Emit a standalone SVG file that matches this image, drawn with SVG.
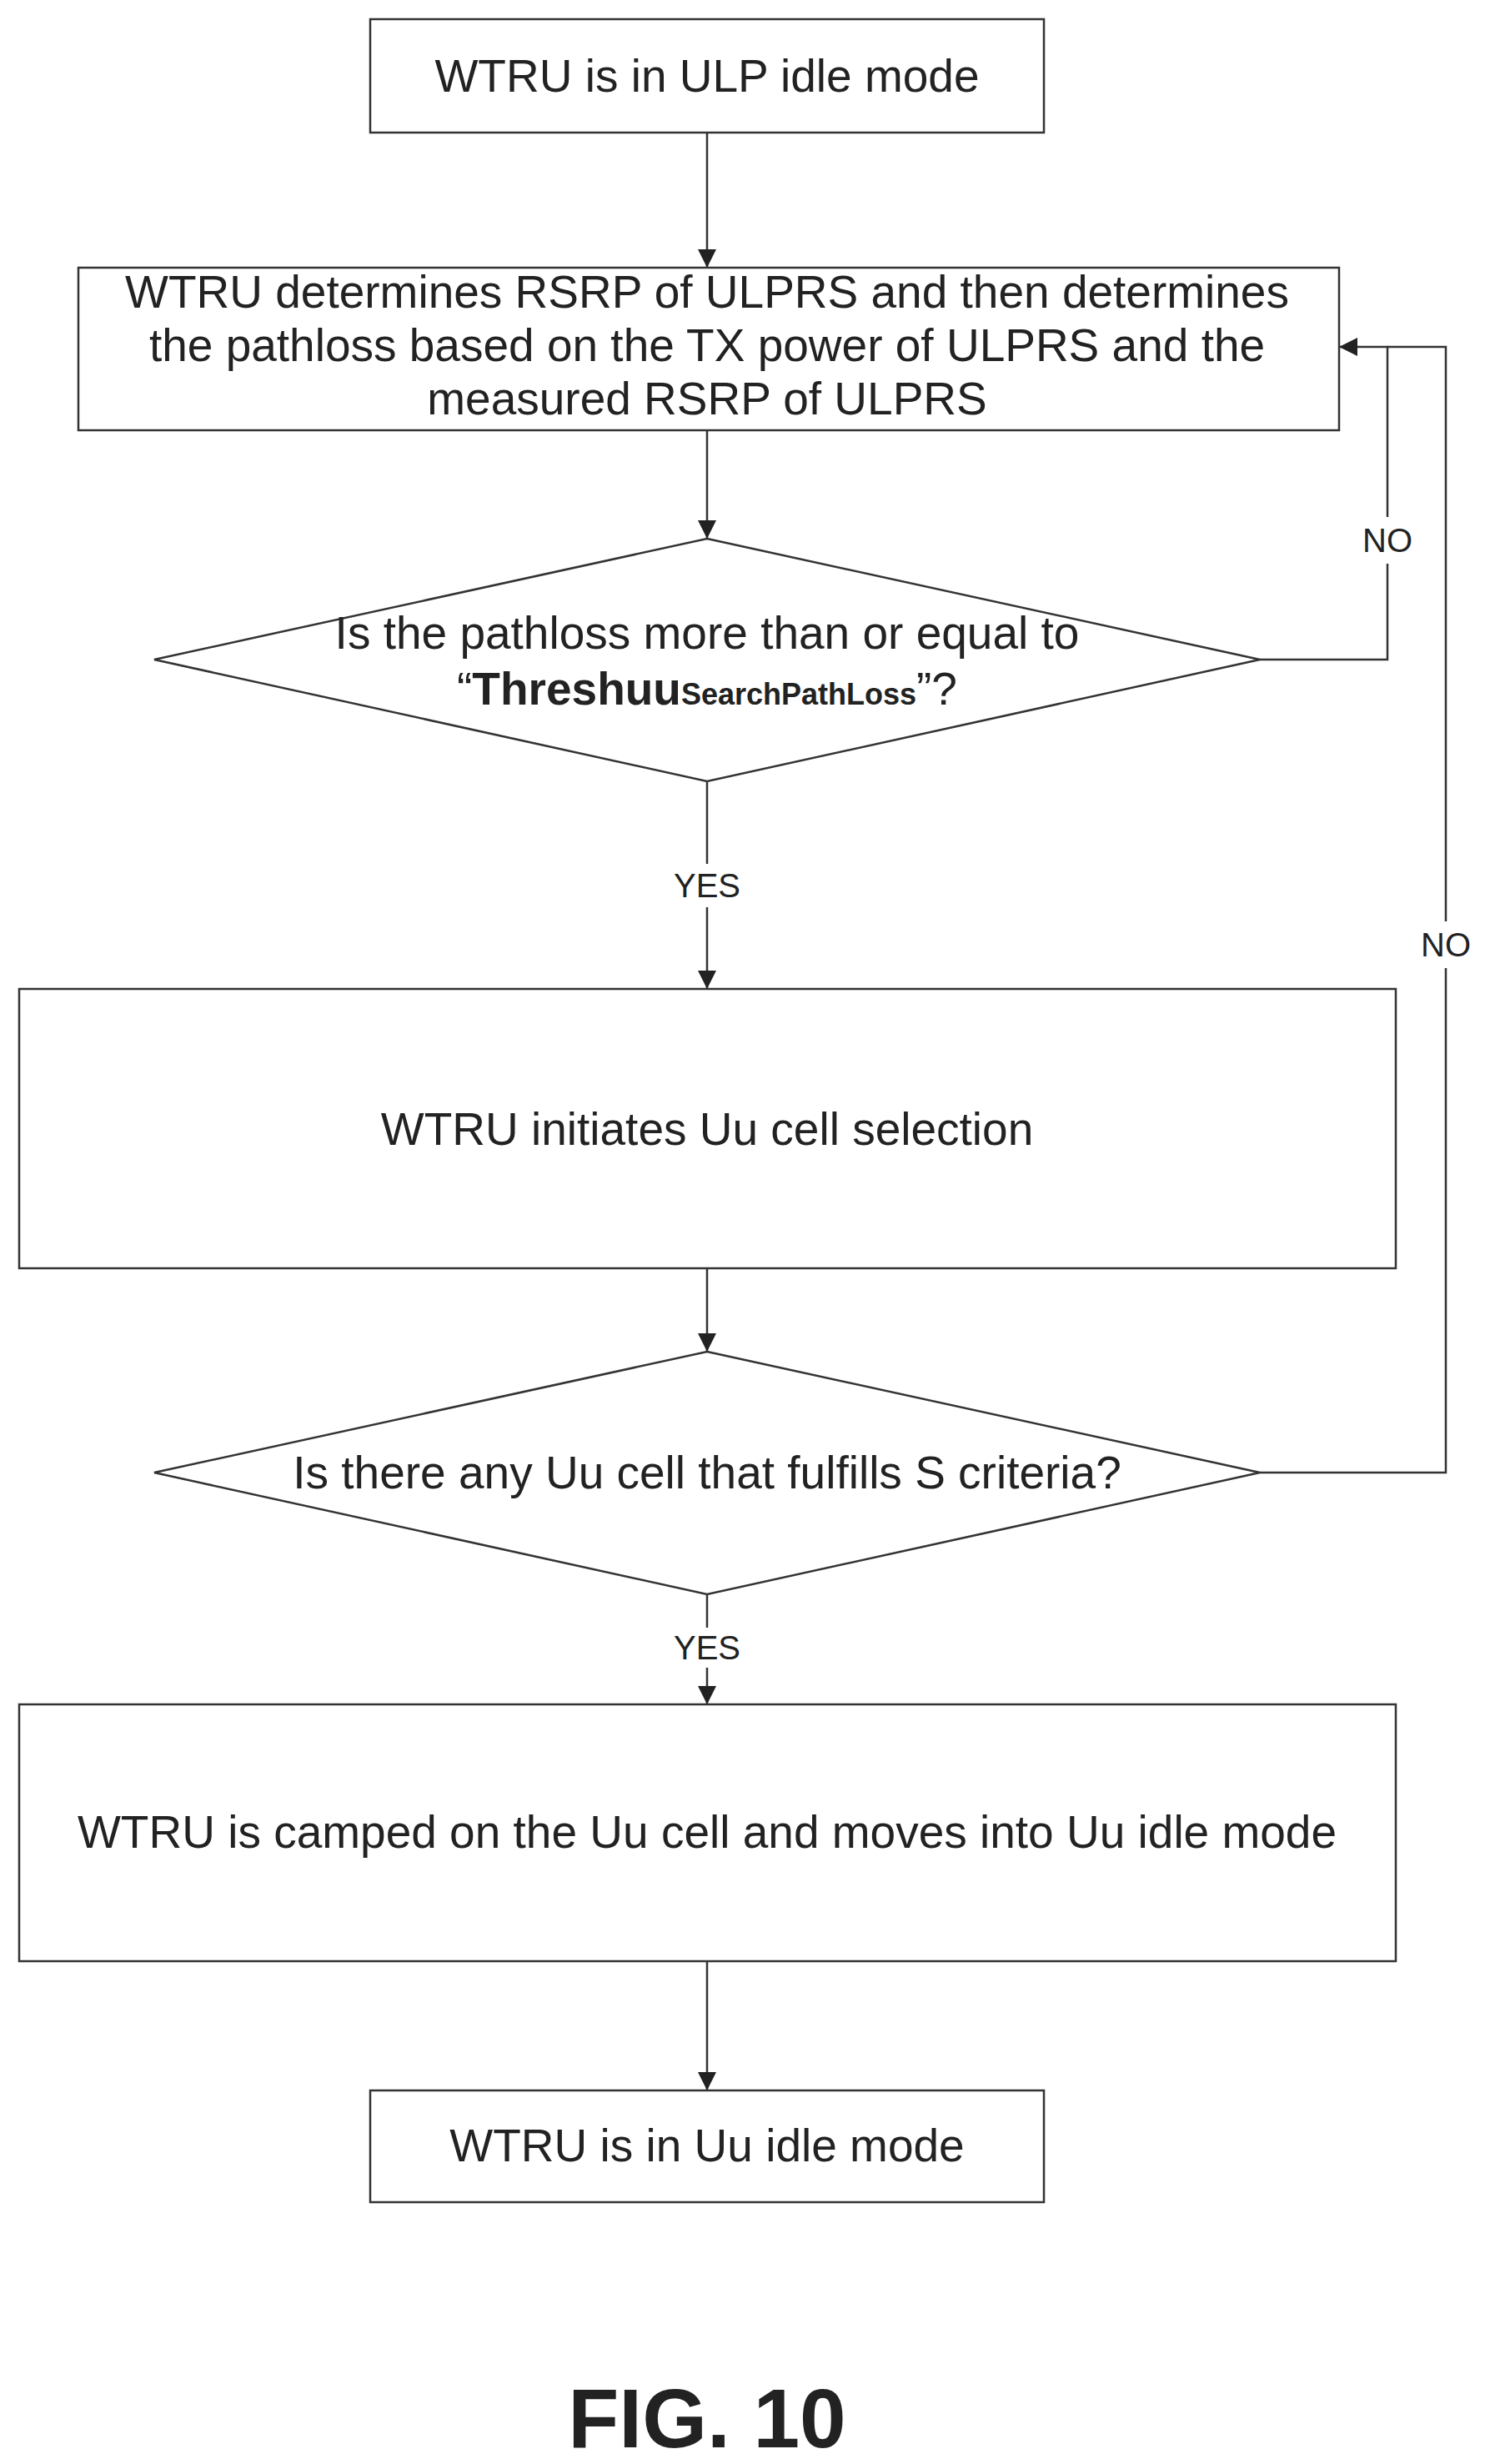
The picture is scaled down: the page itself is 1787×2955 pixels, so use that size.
<svg xmlns="http://www.w3.org/2000/svg" width="1787" height="2955" viewBox="0 0 1787 2955">
<defs>
<style>
.n{fill:#fff;stroke:#333;stroke-width:2.5}
.t{font-family:"Liberation Sans",Arial,sans-serif;font-size:55px;fill:#222;text-anchor:middle;dominant-baseline:central}
.l{font-family:"Liberation Sans",Arial,sans-serif;font-size:40px;fill:#222;text-anchor:middle;dominant-baseline:central}
.c{fill:none;stroke:#333;stroke-width:2.5}
</style>
<marker id="b" viewBox="0 0 10 10" refX="10" refY="5" markerWidth="22" markerHeight="22" markerUnits="userSpaceOnUse" orient="auto"><path d="M0,0L10,5L0,10z" fill="#222"/></marker>
</defs>
<rect width="1787" height="2955" fill="#fff"/>
<g id="connectors">
<path class="c" d="M848,159V321" marker-end="url(#b)"/>
<path class="c" d="M848,516V646" marker-end="url(#b)"/>
<path class="c" d="M848,937V1186" marker-end="url(#b)"/>
<path class="c" d="M848,1521V1621" marker-end="url(#b)"/>
<path class="c" d="M848,1912V2044" marker-end="url(#b)"/>
<path class="c" d="M848,2352V2507" marker-end="url(#b)"/>
<path class="c" d="M1511,791H1664V416H1606" marker-end="url(#b)"/>
<path class="c" d="M1511,1766H1734V416H1664"/>
<rect x="1640" y="620" width="50" height="56" fill="#fff"/>
<text class="l" x="1664" y="648">NO</text>
<rect x="1705" y="1105" width="58" height="56" fill="#fff"/>
<text class="l" x="1734" y="1133">NO</text>
<rect x="800" y="1036" width="96" height="52" fill="#fff"/>
<text class="l" x="848" y="1062">YES</text>
<rect x="800" y="1952" width="96" height="48" fill="#fff"/>
<text class="l" x="848" y="1976">YES</text>
</g>
<g id="n1"><rect class="n" x="444" y="23" width="808" height="136"/><text class="t" x="848" y="91">WTRU is in ULP idle mode</text></g>
<g id="n2"><rect class="n" x="94" y="321" width="1512" height="195"/>
<text class="t" x="848" y="350">WTRU determines RSRP of ULPRS and then determines</text>
<text class="t" x="848" y="414">the pathloss based on the TX power of ULPRS and the</text>
<text class="t" x="848" y="478">measured RSRP of ULPRS</text></g>
<g id="n3"><polygon class="n" points="848,646 1511,791 848,937 185,791"/>
<text class="t" x="848" y="759">Is the pathloss more than or equal to</text>
<text class="t" x="848" y="826">“<tspan font-weight="bold">Threshuu</tspan><tspan font-weight="bold" font-size="36" dy="6">SearchPathLoss</tspan><tspan dy="-6">”?</tspan></text></g>
<g id="n4"><rect class="n" x="23" y="1186" width="1651" height="335"/><text class="t" x="848" y="1354">WTRU initiates Uu cell selection</text></g>
<g id="n5"><polygon class="n" points="848,1621 1511,1766 848,1912 185,1766"/><text class="t" x="848" y="1766">Is there any Uu cell that fulfills S criteria?</text></g>
<g id="n6"><rect class="n" x="23" y="2044" width="1651" height="308"/><text class="t" x="848" y="2197">WTRU is camped on the Uu cell and moves into Uu idle mode</text></g>
<g id="n7"><rect class="n" x="444" y="2507" width="808" height="134"/><text class="t" x="848" y="2573">WTRU is in Uu idle mode</text></g>
<text x="848" y="2900" font-family="Liberation Sans,Arial,sans-serif" font-size="100" font-weight="bold" fill="#222" text-anchor="middle" dominant-baseline="central">FIG. 10</text>
</svg>
